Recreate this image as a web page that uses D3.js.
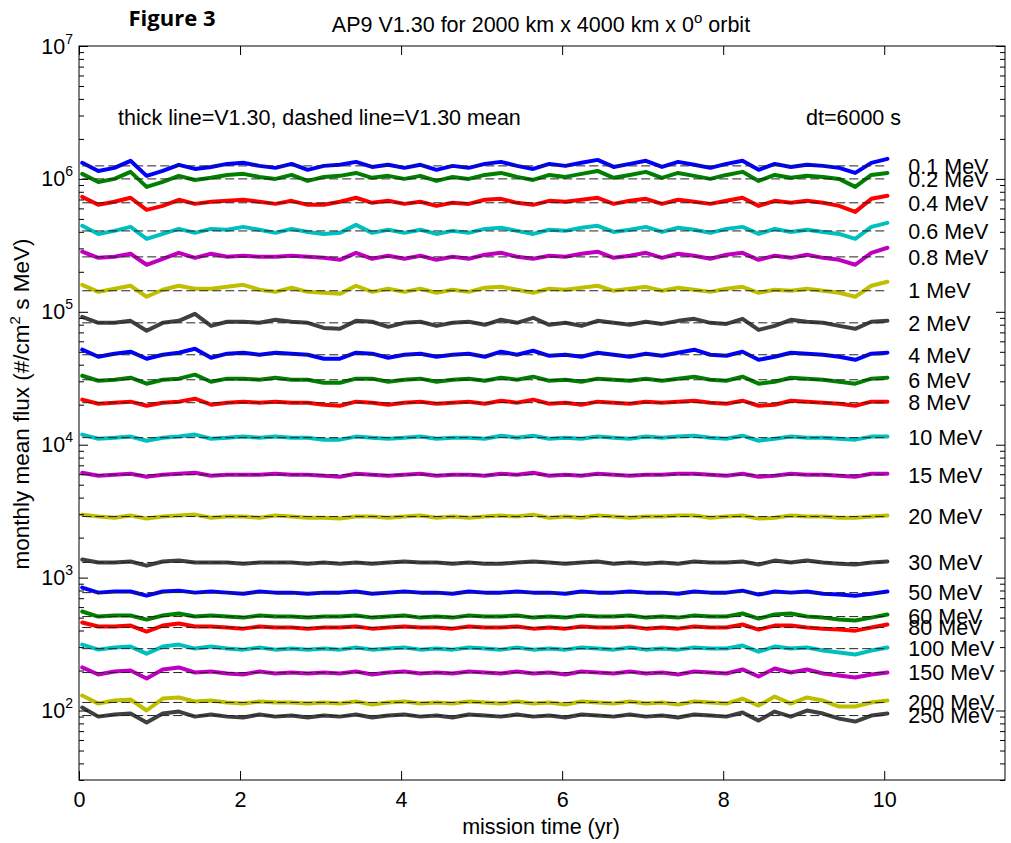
<!DOCTYPE html>
<html><head><meta charset="utf-8">
<script src="https://cdn.jsdelivr.net/npm/d3@7"></script>
<style>body{margin:0;background:#fff}text{font-family:"Liberation Sans",Arial,sans-serif}</style>
</head><body>
<svg id="chart" width="1011" height="843"></svg>
<script>
// ---- data ----
const years = [0.04,0.24,0.44,0.64,0.84,1.04,1.24,1.44,1.64,1.84,2.04,2.24,2.44,2.64,2.84,3.04,3.24,3.44,3.64,3.84,
  4.04,4.24,4.44,4.64,4.84,5.04,5.24,5.44,5.64,5.84,6.04,6.24,6.44,6.64,6.84,7.04,7.24,7.44,7.64,7.84,
  8.04,8.24,8.44,8.64,8.84,9.04,9.24,9.44,9.64,9.84,10.04];
const energies = ["0.1 MeV","0.2 MeV","0.4 MeV","0.6 MeV","0.8 MeV","1 MeV","2 MeV","4 MeV","6 MeV","8 MeV","10 MeV",
  "15 MeV","20 MeV","30 MeV","50 MeV","60 MeV","80 MeV","100 MeV","150 MeV","200 MeV","250 MeV"];
// dashed lines: V1.30 mean flux (#/cm2 s MeV)
const meanFlux = [1.253e6,1.0e6,6.61e5,4.06e5,2.59e5,1.44e5,8.26e4,4.75e4,3.08e4,2.07e4,1.13e4,
  5.94e3,2.88e3,1.30e3,771,509,421,292,193,115,91.6];
// thick lines: log10 of monthly mean flux
const log10Flux_0_1 = [6.121,6.060,6.083,6.136,6.023,6.060,6.106,6.075,6.090,6.113,6.121,6.098,6.083,6.113,6.068,6.098,6.106,6.128,6.090,6.106,6.083,6.106,6.068,6.098,6.083,6.113,6.128,6.098,6.075,6.113,6.098,6.121,6.143,6.090,6.113,6.136,6.090,6.128,6.106,6.083,6.113,6.136,6.068,6.113,6.090,6.106,6.098,6.083,6.045,6.121,6.151];
const log10Flux_0_2 = [6.038,5.977,6.000,6.053,5.940,5.977,6.023,5.992,6.008,6.030,6.038,6.015,6.000,6.030,5.985,6.015,6.023,6.045,6.008,6.023,6.000,6.023,5.985,6.015,6.000,6.030,6.045,6.015,5.992,6.030,6.015,6.038,6.060,6.008,6.030,6.053,6.008,6.045,6.023,6.000,6.030,6.053,5.985,6.030,6.008,6.023,6.015,6.000,5.940,6.030,6.045];
const log10Flux_0_4 = [5.865,5.805,5.828,5.858,5.767,5.797,5.843,5.812,5.828,5.835,5.843,5.828,5.812,5.835,5.805,5.805,5.828,5.858,5.820,5.835,5.812,5.828,5.797,5.820,5.812,5.843,5.850,5.820,5.805,5.835,5.828,5.843,5.858,5.812,5.835,5.850,5.812,5.843,5.828,5.812,5.835,5.858,5.797,5.835,5.820,5.835,5.820,5.797,5.752,5.850,5.873];
const log10Flux_0_6 = [5.647,5.586,5.609,5.639,5.549,5.586,5.624,5.594,5.624,5.617,5.639,5.617,5.594,5.624,5.601,5.586,5.594,5.654,5.594,5.617,5.594,5.617,5.586,5.609,5.594,5.624,5.632,5.609,5.586,5.617,5.609,5.632,5.647,5.601,5.617,5.639,5.601,5.632,5.617,5.594,5.624,5.639,5.586,5.624,5.601,5.617,5.601,5.586,5.549,5.639,5.669];
const log10Flux_0_8 = [5.452,5.406,5.414,5.437,5.354,5.399,5.444,5.406,5.437,5.414,5.422,5.414,5.414,5.422,5.414,5.406,5.391,5.444,5.399,5.422,5.399,5.422,5.391,5.414,5.399,5.429,5.444,5.414,5.399,5.422,5.414,5.437,5.452,5.406,5.422,5.444,5.406,5.437,5.422,5.399,5.429,5.444,5.391,5.422,5.406,5.429,5.406,5.391,5.354,5.444,5.482];
const log10Flux_1 = [5.203,5.150,5.173,5.196,5.113,5.166,5.196,5.173,5.173,5.188,5.203,5.166,5.150,5.181,5.150,5.143,5.135,5.196,5.150,5.173,5.150,5.173,5.143,5.166,5.150,5.181,5.188,5.166,5.143,5.173,5.166,5.181,5.196,5.158,5.173,5.188,5.158,5.181,5.166,5.150,5.173,5.188,5.143,5.166,5.158,5.173,5.158,5.143,5.113,5.196,5.226];
const log10Flux_2 = [4.962,4.917,4.917,4.932,4.857,4.917,4.932,4.985,4.894,4.925,4.925,4.917,4.940,4.925,4.917,4.879,4.872,4.932,4.925,4.887,4.917,4.925,4.894,4.917,4.925,4.902,4.940,4.917,4.955,4.902,4.917,4.894,4.932,4.917,4.902,4.925,4.909,4.932,4.947,4.917,4.909,4.947,4.864,4.894,4.940,4.925,4.917,4.894,4.872,4.925,4.932];
const log10Flux_4 = [4.715,4.662,4.685,4.700,4.647,4.677,4.692,4.722,4.654,4.685,4.692,4.677,4.692,4.685,4.677,4.647,4.647,4.692,4.685,4.654,4.677,4.685,4.662,4.677,4.685,4.662,4.700,4.677,4.707,4.669,4.677,4.662,4.692,4.677,4.662,4.685,4.669,4.692,4.715,4.677,4.669,4.700,4.639,4.662,4.692,4.685,4.677,4.662,4.639,4.685,4.692];
const log10Flux_6 = [4.519,4.481,4.489,4.504,4.459,4.489,4.497,4.527,4.474,4.497,4.497,4.489,4.504,4.489,4.489,4.466,4.466,4.497,4.497,4.474,4.489,4.497,4.474,4.489,4.497,4.481,4.504,4.489,4.512,4.481,4.489,4.474,4.497,4.489,4.481,4.497,4.481,4.497,4.512,4.489,4.481,4.512,4.459,4.474,4.504,4.497,4.489,4.474,4.459,4.497,4.504];
const log10Flux_8 = [4.339,4.308,4.316,4.324,4.293,4.316,4.324,4.346,4.301,4.316,4.324,4.316,4.324,4.316,4.316,4.301,4.293,4.324,4.316,4.301,4.316,4.324,4.308,4.316,4.324,4.308,4.331,4.316,4.339,4.308,4.316,4.301,4.324,4.316,4.308,4.324,4.316,4.324,4.331,4.316,4.308,4.331,4.293,4.301,4.331,4.324,4.316,4.308,4.293,4.324,4.324];
const log10Flux_10 = [4.076,4.045,4.053,4.061,4.030,4.053,4.061,4.076,4.045,4.053,4.061,4.053,4.061,4.053,4.053,4.038,4.038,4.061,4.053,4.045,4.053,4.061,4.045,4.053,4.053,4.045,4.068,4.053,4.068,4.045,4.053,4.045,4.061,4.053,4.045,4.061,4.053,4.061,4.068,4.053,4.045,4.068,4.030,4.045,4.061,4.053,4.053,4.045,4.038,4.061,4.061];
const log10Flux_15 = [3.789,3.766,3.774,3.782,3.759,3.774,3.782,3.789,3.766,3.774,3.774,3.774,3.782,3.774,3.774,3.766,3.759,3.782,3.774,3.766,3.774,3.782,3.766,3.774,3.774,3.766,3.782,3.774,3.789,3.766,3.774,3.766,3.782,3.774,3.766,3.774,3.774,3.782,3.782,3.774,3.766,3.782,3.759,3.766,3.782,3.774,3.774,3.766,3.759,3.782,3.782];
const log10Flux_20 = [3.474,3.459,3.451,3.467,3.444,3.459,3.467,3.474,3.451,3.459,3.459,3.451,3.467,3.459,3.451,3.451,3.444,3.459,3.459,3.451,3.459,3.467,3.451,3.459,3.451,3.459,3.467,3.459,3.474,3.451,3.459,3.451,3.467,3.459,3.451,3.459,3.459,3.467,3.467,3.451,3.459,3.467,3.444,3.451,3.467,3.459,3.459,3.451,3.451,3.459,3.467];
const log10Flux_30 = [3.136,3.113,3.113,3.121,3.090,3.121,3.128,3.113,3.113,3.113,3.105,3.113,3.113,3.113,3.105,3.113,3.105,3.113,3.105,3.113,3.121,3.113,3.113,3.105,3.113,3.105,3.105,3.113,3.121,3.113,3.105,3.113,3.121,3.105,3.113,3.105,3.113,3.105,3.121,3.113,3.113,3.121,3.098,3.128,3.113,3.128,3.113,3.105,3.098,3.113,3.121];
const log10Flux_50 = [2.925,2.887,2.895,2.895,2.864,2.895,2.902,2.887,2.895,2.887,2.879,2.895,2.887,2.887,2.879,2.887,2.887,2.895,2.879,2.887,2.895,2.887,2.887,2.879,2.895,2.887,2.887,2.895,2.887,2.887,2.879,2.895,2.887,2.887,2.895,2.887,2.887,2.879,2.895,2.887,2.887,2.902,2.872,2.895,2.887,2.895,2.879,2.872,2.864,2.879,2.895];
const log10Flux_60 = [2.745,2.707,2.715,2.715,2.684,2.715,2.730,2.707,2.715,2.707,2.699,2.715,2.707,2.707,2.699,2.707,2.707,2.715,2.699,2.707,2.715,2.699,2.707,2.699,2.715,2.707,2.707,2.715,2.699,2.707,2.699,2.715,2.707,2.707,2.715,2.699,2.707,2.699,2.715,2.707,2.707,2.730,2.692,2.722,2.730,2.707,2.699,2.684,2.677,2.699,2.722];
const log10Flux_80 = [2.662,2.632,2.632,2.639,2.594,2.639,2.654,2.632,2.632,2.624,2.616,2.632,2.624,2.624,2.616,2.624,2.624,2.632,2.616,2.624,2.632,2.624,2.624,2.616,2.632,2.624,2.624,2.632,2.616,2.624,2.616,2.632,2.624,2.624,2.632,2.616,2.624,2.616,2.632,2.624,2.624,2.647,2.609,2.639,2.639,2.624,2.616,2.609,2.601,2.624,2.647];
const log10Flux_100 = [2.496,2.458,2.474,2.481,2.428,2.481,2.496,2.466,2.481,2.466,2.458,2.474,2.458,2.466,2.458,2.466,2.458,2.474,2.458,2.466,2.474,2.458,2.466,2.458,2.474,2.466,2.458,2.474,2.458,2.466,2.458,2.474,2.466,2.458,2.474,2.458,2.466,2.458,2.474,2.466,2.466,2.489,2.443,2.481,2.466,2.474,2.451,2.436,2.421,2.451,2.474];
const log10Flux_150 = [2.324,2.271,2.294,2.301,2.241,2.309,2.324,2.286,2.294,2.278,2.271,2.294,2.278,2.286,2.278,2.286,2.278,2.294,2.271,2.286,2.294,2.278,2.286,2.278,2.294,2.286,2.278,2.294,2.278,2.286,2.271,2.294,2.286,2.278,2.294,2.278,2.286,2.271,2.294,2.286,2.278,2.309,2.256,2.316,2.286,2.309,2.278,2.263,2.248,2.271,2.286];
const log10Flux_200 = [2.113,2.052,2.075,2.083,2.000,2.090,2.098,2.068,2.075,2.060,2.052,2.068,2.060,2.060,2.052,2.060,2.052,2.068,2.045,2.060,2.068,2.052,2.060,2.052,2.068,2.060,2.052,2.068,2.052,2.060,2.045,2.068,2.060,2.052,2.068,2.052,2.060,2.045,2.068,2.060,2.052,2.090,2.037,2.105,2.052,2.098,2.075,2.030,2.030,2.060,2.075];
const log10Flux_250 = [2.022,1.954,1.970,1.977,1.909,1.977,1.992,1.954,1.970,1.954,1.947,1.970,1.954,1.962,1.947,1.962,1.954,1.970,1.947,1.962,1.970,1.954,1.962,1.947,1.970,1.962,1.954,1.970,1.954,1.962,1.947,1.970,1.962,1.954,1.970,1.954,1.962,1.947,1.970,1.962,1.954,1.985,1.924,1.992,1.954,2.000,1.977,1.939,1.917,1.962,1.977];
const seriesLog = [log10Flux_0_1,log10Flux_0_2,log10Flux_0_4,log10Flux_0_6,log10Flux_0_8,log10Flux_1,log10Flux_2,
  log10Flux_4,log10Flux_6,log10Flux_8,log10Flux_10,log10Flux_15,log10Flux_20,log10Flux_30,log10Flux_50,
  log10Flux_60,log10Flux_80,log10Flux_100,log10Flux_150,log10Flux_200,log10Flux_250];
const xTicks = [0,2,4,6,8,10];
const yDecades = [1e2,1e3,1e4,1e5,1e6,1e7];
const yExponents = ["2","3","4","5","6","7"];
const palette = ["#0000ff","#008000","#ff0000","#00bfbf","#bf00bf","#bfbf00","#404040"];

// ---- layout ----
const L=79, R=1005, T=46, B=780;
const x = d3.scaleLinear().domain([0,11.5]).range([L,R]);
const y = d3.scaleLog().domain([30,1e7]).range([B,T]);
const svg = d3.select("#chart");
const fs = 21.5;
const FF = "'Liberation Sans',Arial,sans-serif";

// minor ticks
const minors = [];
for (let e=1; e<7; e++) for (let m=2; m<10; m++) { const v=m*Math.pow(10,e); if (v>=30 && v<=1e7) minors.push(v); }

// series (thick)
const line = d3.line().x((d,i)=>x(years[i])).y(d=>y(Math.pow(10,d)));
svg.append("g").selectAll("path").data(seriesLog).join("path")
  .attr("d", line).attr("fill","none")
  .attr("stroke",(d,i)=>palette[i%7]).attr("stroke-width",4)
  .attr("stroke-linejoin","round").attr("stroke-linecap","round");

// mean (dashed)
svg.append("g").selectAll("line").data(meanFlux).join("line")
  .attr("x1", x(years[0])).attr("x2", x(10))
  .attr("y1", d=>y(d)).attr("y2", d=>y(d))
  .attr("stroke","#222").attr("stroke-width",1).attr("stroke-dasharray","9,4");

// axes
function styleAxis(g){ g.select(".domain").remove(); g.selectAll("line").attr("stroke","#000"); }
svg.append("g").attr("transform",`translate(0,${B})`)
  .call(d3.axisBottom(x).tickValues(xTicks).tickSize(-9).tickPadding(12).tickFormat(d3.format("d")))
  .call(styleAxis)
  .call(g=>g.selectAll("text").attr("font-size",fs).attr("fill","#000").style("font-family",FF));
svg.append("g").attr("transform",`translate(0,${T})`)
  .call(d3.axisTop(x).tickValues(xTicks).tickSize(-9).tickFormat("")).call(styleAxis);
svg.append("g").attr("transform",`translate(${L},0)`)
  .call(d3.axisLeft(y).tickValues(minors).tickSize(-5).tickFormat("")).call(styleAxis);
svg.append("g").attr("transform",`translate(${R},0)`)
  .call(d3.axisRight(y).tickValues(minors).tickSize(-5).tickFormat("")).call(styleAxis);
svg.append("g").attr("transform",`translate(${R},0)`)
  .call(d3.axisRight(y).tickValues(yDecades).tickSize(-9).tickFormat("")).call(styleAxis);
const yl = svg.append("g").attr("transform",`translate(${L},0)`)
  .call(d3.axisLeft(y).tickValues(yDecades).tickSize(-9).tickFormat("")).call(styleAxis);
yl.selectAll(".tick").each(function(d,i){
  const t = d3.select(this).append("text").attr("x",-6).attr("y",7).attr("text-anchor","end")
    .attr("fill","#000").attr("font-size",fs).style("font-family",FF);
  t.append("tspan").text("10");
  t.append("tspan").attr("font-size",14).attr("dy",-10).text(yExponents[i]);
});

// box
svg.append("rect").attr("x",L).attr("y",T).attr("width",R-L).attr("height",B-T)
  .attr("fill","none").attr("stroke","#000").attr("stroke-width",1);

// energy labels
svg.append("g").selectAll("text").data(energies).join("text")
  .attr("x", x(10.3)).attr("y",(d,i)=>y(meanFlux[i])).attr("dy","0.36em")
  .attr("font-size",fs).attr("fill","#000").text(d=>d);

// texts
svg.append("text").attr("x",172).attr("y",26).attr("text-anchor","middle")
  .style("font-family","'Open Sans',sans-serif").attr("font-weight","bold").attr("font-size",22).text("Figure 3");
const title = svg.append("text").attr("x",541).attr("y",32).attr("text-anchor","middle").attr("font-size",fs);
title.append("tspan").text("AP9 V1.30 for 2000 km x 4000 km x 0");
title.append("tspan").attr("font-size",15).attr("dy",-9).text("o");
title.append("tspan").attr("dy",9).text(" orbit");
svg.append("text").attr("x",118).attr("y",125).attr("font-size",fs).text("thick line=V1.30, dashed line=V1.30 mean");
svg.append("text").attr("x",806).attr("y",125).attr("font-size",fs).text("dt=6000 s");
svg.append("text").attr("x",541).attr("y",834).attr("text-anchor","middle").attr("font-size",fs).text("mission time (yr)");
const ylab = svg.append("text").attr("transform","translate(29,404) rotate(-90)").attr("text-anchor","middle").attr("font-size",22.5);
ylab.append("tspan").text("monthly mean flux (#/cm");
ylab.append("tspan").attr("font-size",15).attr("dy",-9).text("2");
ylab.append("tspan").attr("dy",9).text(" s MeV)");
</script>
</body></html>
